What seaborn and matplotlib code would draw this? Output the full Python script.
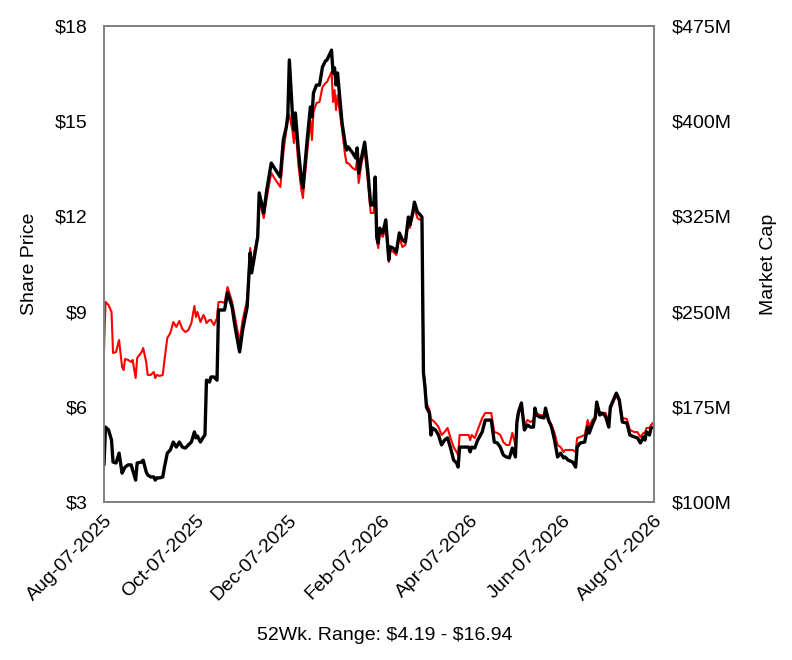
import matplotlib
matplotlib.use("Agg")
import matplotlib.pyplot as plt
import matplotlib.dates as mdates
from matplotlib.ticker import FixedLocator, FuncFormatter
import seaborn as sns
import pandas as pd

dates = [
"2025-08-07","2025-08-08","2025-08-10","2025-08-12","2025-08-13","2025-08-15","2025-08-17","2025-08-19","2025-08-20","2025-08-21","2025-08-23","2025-08-25","2025-08-26","2025-08-28","2025-08-29",
"2025-09-01","2025-09-02","2025-09-04","2025-09-05","2025-09-07","2025-09-09","2025-09-10","2025-09-11","2025-09-13","2025-09-15","2025-09-16","2025-09-18","2025-09-20","2025-09-22","2025-09-24","2025-09-26","2025-09-28","2025-09-30",
"2025-10-02","2025-10-04","2025-10-06","2025-10-07","2025-10-08","2025-10-10","2025-10-12","2025-10-13","2025-10-14","2025-10-16","2025-10-17","2025-10-19","2025-10-21","2025-10-22","2025-10-24","2025-10-26","2025-10-28","2025-10-31",
"2025-11-02","2025-11-05","2025-11-07","2025-11-10","2025-11-12","2025-11-13","2025-11-17","2025-11-18","2025-11-21","2025-11-23","2025-11-26","2025-11-28",
"2025-12-02","2025-12-04","2025-12-06","2025-12-07","2025-12-08","2025-12-10","2025-12-11","2025-12-12","2025-12-14","2025-12-16","2025-12-17","2025-12-20","2025-12-22","2025-12-23","2025-12-24","2025-12-26","2025-12-28","2025-12-30",
"2026-01-01","2026-01-02","2026-01-05","2026-01-06","2026-01-07","2026-01-08","2026-01-09","2026-01-12","2026-01-14","2026-01-15","2026-01-16","2026-01-19","2026-01-21","2026-01-22","2026-01-23","2026-01-25","2026-01-27","2026-01-29","2026-01-31",
"2026-02-02","2026-02-03","2026-02-04","2026-02-05","2026-02-06","2026-02-08","2026-02-10","2026-02-11","2026-02-12","2026-02-13","2026-02-15","2026-02-17","2026-02-19","2026-02-21","2026-02-23","2026-02-25","2026-02-26","2026-02-28",
"2026-03-01","2026-03-03","2026-03-05","2026-03-06","2026-03-07","2026-03-08","2026-03-09","2026-03-11","2026-03-12","2026-03-13","2026-03-15","2026-03-17","2026-03-19","2026-03-21","2026-03-23","2026-03-25","2026-03-27","2026-03-29","2026-03-30","2026-03-31",
"2026-04-03","2026-04-06","2026-04-07","2026-04-08","2026-04-10","2026-04-12","2026-04-15","2026-04-17","2026-04-21","2026-04-23","2026-04-25","2026-04-27","2026-04-29",
"2026-05-01","2026-05-03","2026-05-05","2026-05-07","2026-05-08","2026-05-09","2026-05-11","2026-05-12","2026-05-13","2026-05-15","2026-05-17","2026-05-19","2026-05-20","2026-05-21","2026-05-23","2026-05-26","2026-05-27","2026-05-29","2026-05-31",
"2026-06-02","2026-06-04","2026-06-06","2026-06-08","2026-06-09","2026-06-11","2026-06-14","2026-06-16","2026-06-17","2026-06-19","2026-06-22","2026-06-24","2026-06-25","2026-06-27","2026-06-29","2026-06-30",
"2026-07-02","2026-07-04","2026-07-06","2026-07-08","2026-07-09","2026-07-11","2026-07-13","2026-07-15","2026-07-17","2026-07-20","2026-07-22","2026-07-25","2026-07-27","2026-07-29","2026-07-31",
"2026-08-01","2026-08-02","2026-08-04","2026-08-05","2026-08-07"]

share_price = [
4.17, 5.36, 5.27, 4.95, 4.26, 4.23, 4.54, 3.91, 4.01, 4.10, 4.17, 4.17, 4.01, 3.69, 4.23,
4.26, 4.32, 3.95, 3.85, 3.79, 3.79, 3.69, 3.76, 3.76, 3.79, 4.07, 4.54, 4.64, 4.89, 4.73, 4.89, 4.73, 4.70,
4.80, 4.89, 5.21, 5.02, 5.08, 4.89, 5.05, 5.11, 6.84, 6.78, 6.94, 6.94, 6.84, 9.05, 9.05, 9.05, 9.59, 9.15,
8.51, 7.73, 8.42, 9.15, 10.85, 10.22, 11.35, 12.74, 12.11, 12.83, 13.68, 13.53,
13.24, 14.41, 14.82, 15.20, 16.93, 15.26, 14.72, 15.26, 14.09, 13.15, 12.90, 14.50, 15.45, 15.13, 15.89, 16.14, 16.14, 16.71,
16.90, 16.93, 17.24, 16.52, 16.68, 16.14, 16.52, 14.94, 14.31, 14.09, 14.19, 14.00, 13.84, 14.16, 13.37, 13.87, 14.34, 13.46, 12.36,
12.36, 13.24, 11.35, 11.16, 11.63, 11.48, 11.89, 11.26, 10.63, 11.04, 11.00, 10.88, 11.48, 11.26, 11.19, 11.98, 11.73, 12.14,
12.45, 12.14, 12.04, 11.98, 7.07, 6.62, 5.99, 5.80, 5.11, 5.33, 5.27, 5.11, 4.80, 4.95, 5.02, 4.70, 4.32, 4.23, 4.10, 4.73,
4.73, 4.73, 4.58, 4.73, 4.70, 4.95, 5.21, 5.58, 5.58, 4.89, 4.86, 4.73, 4.48,
4.42, 4.39, 4.70, 4.42, 5.49, 5.80, 6.12, 5.68, 5.27, 5.43, 5.36, 5.36, 5.96, 5.74, 5.68, 5.65, 5.96, 5.58, 5.36,
4.95, 4.42, 4.54, 4.39, 4.42, 4.32, 4.26, 4.10, 4.73, 4.86, 4.89, 5.36, 5.17, 5.43, 5.65, 6.15,
5.74, 5.80, 5.68, 5.36, 5.99, 6.21, 6.43, 6.21, 5.52, 5.49, 5.11, 5.05, 5.02, 4.86, 5.05,
4.95, 5.21, 5.11, 5.33, 5.36]

market_cap_m = [
219.7, 257.6, 255.2, 249.7, 217.4, 218.2, 227.6, 206.4, 204.0, 212.7, 211.9, 210.3, 211.9, 197.7, 213.4,
218.2, 221.3, 210.3, 200.1, 200.1, 202.4, 197.7, 200.1, 199.3, 200.1, 210.3, 229.2, 233.1, 241.8, 237.9, 242.6, 236.3, 233.9,
235.5, 241.0, 254.4, 245.7, 249.7, 241.8, 247.3, 245.0, 241.0, 243.4, 243.4, 239.4, 245.0, 257.6, 257.6, 256.8, 269.4, 257.6,
245.0, 226.1, 243.4, 259.1, 300.1, 285.9, 310.3, 337.9, 323.7, 339.5, 359.2, 355.3,
348.2, 374.9, 393.1, 400.9, 404.9, 393.1, 382.8, 397.0, 365.5, 345.8, 339.5, 377.3, 400.9, 385.2, 407.2, 414.3, 415.1, 426.9,
430.1, 430.9, 438.8, 415.1, 424.6, 408.8, 420.6, 393.1, 373.4, 367.1, 367.1, 363.1, 361.6, 369.4, 351.3, 367.9, 377.3, 353.7, 327.7,
327.7, 353.7, 306.4, 300.1, 312.7, 308.8, 315.9, 304.0, 289.1, 298.5, 297.0, 294.6, 308.8, 300.9, 302.5, 320.6, 315.9, 326.1,
331.6, 323.7, 322.2, 322.2, 204.0, 193.8, 178.0, 172.5, 164.6, 164.6, 162.2, 159.1, 152.8, 155.1, 158.3, 150.4, 143.3, 139.4, 137.0, 152.8,
152.8, 152.8, 148.8, 152.8, 150.4, 156.7, 166.2, 170.1, 170.1, 155.1, 154.4, 152.8, 147.3,
144.9, 144.9, 154.4, 144.9, 166.2, 172.5, 178.0, 168.5, 160.7, 164.6, 163.0, 164.6, 170.1, 170.1, 168.5, 168.5, 172.5, 164.6, 160.7,
154.4, 144.9, 143.3, 139.4, 141.0, 141.0, 141.0, 139.4, 150.4, 151.2, 152.8, 164.6, 159.1, 164.6, 167.0, 176.4,
170.9, 170.1, 170.1, 160.7, 172.5, 178.8, 184.3, 178.8, 166.2, 165.4, 156.7, 155.1, 155.1, 151.2, 154.4,
154.4, 158.3, 158.3, 160.7, 163.0]

x_tick_dates = ["2025-08-07", "2025-10-07", "2025-12-07", "2026-02-07",
                "2026-04-07", "2026-06-07", "2026-08-07"]
price_ticks = [3, 6, 9, 12, 15, 18]
cap_ticks = [100, 175, 250, 325, 400, 475]
range_text = "52Wk. Range: $4.19 - $16.94"

df = pd.DataFrame({"date": pd.to_datetime(dates),
                   "price": share_price,
                   "cap": market_cap_m})

sns.set_style("white")
plt.rcParams["font.family"] = ["Liberation Sans", "DejaVu Sans"]
plt.rcParams["text.color"] = "black"
plt.rcParams["axes.labelcolor"] = "black"

fig = plt.figure(figsize=(7.92, 6.6), dpi=100)
ax = fig.add_axes([104/792, 1-502/660, 550/792, 476/660])
ax2 = ax.twinx()

sns.lineplot(data=df, x="date", y="cap", ax=ax2, color="#ff0000", linewidth=1.5)
sns.lineplot(data=df, x="date", y="price", ax=ax, color="black", linewidth=2.4)

ax.set_zorder(ax2.get_zorder() + 1)
ax.patch.set_visible(False)

xt = pd.to_datetime(x_tick_dates)
ax.set_xlim(xt[0], xt[-1])
ax.set_ylim(price_ticks[0], price_ticks[-1])
ax2.set_ylim(cap_ticks[0], cap_ticks[-1])

ax.xaxis.set_major_locator(FixedLocator(mdates.date2num(xt)))
ax.xaxis.set_major_formatter(mdates.DateFormatter("%b-%d-%Y"))
ax.set_yticks(price_ticks)
ax.yaxis.set_major_formatter(FuncFormatter(lambda v, p: f"\\${v:.0f}"))
ax2.set_yticks(cap_ticks)
ax2.yaxis.set_major_formatter(FuncFormatter(lambda v, p: f"\\${v:.0f}M"))

ax.tick_params(axis="y", length=0, pad=12, labelsize=14, labelcolor="black")
ax2.tick_params(axis="y", length=0, pad=13, labelsize=14, labelcolor="black")
ax.tick_params(axis="x", length=0, pad=7, labelsize=14, labelcolor="black")
for lab in ax.get_xticklabels():
    lab.set_rotation(45)
    lab.set_ha("right")
    lab.set_rotation_mode("anchor")

ax.set_xlabel("")
ax.set_ylabel("Share Price", fontsize=14, labelpad=12, color="black")
ax2.set_ylabel("Market Cap", fontsize=14, labelpad=20, color="black")

for a in (ax, ax2):
    for s in a.spines.values():
        s.set_color("#808080")
        s.set_linewidth(1.2)

fig.text(385/792, 1-635/660, range_text, ha="center", va="center",
         fontsize=14, color="black", parse_math=False)

fig.savefig("out.png", dpi=100)
